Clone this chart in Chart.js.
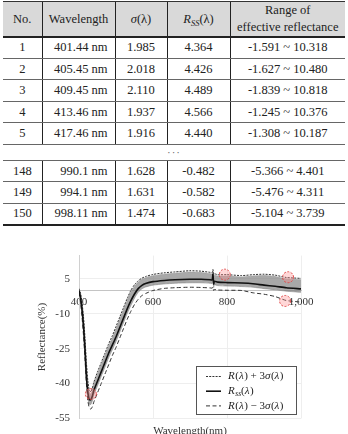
<!DOCTYPE html>
<html>
<head>
<meta charset="utf-8">
<script src="https://cdn.jsdelivr.net/npm/chart.js@4.4.1/dist/chart.umd.min.js"></script>
<style>
  html, body { margin: 0; padding: 0; background: #fff; width: 348px; height: 434px; overflow: hidden; }
  #tbl { position: absolute; left: 3px; top: 1px; width: 342px; }
  table { border-collapse: collapse; table-layout: fixed; width: 342px;
          font-family: 'Liberation Serif', Tinos, 'Times New Roman', 'DejaVu Serif', serif; font-size: 12.5px; color: #222; }
  td, th { padding: 0; text-align: center; vertical-align: middle; font-weight: normal; line-height: 1.3; }
  thead tr { background: #d9d9d9; height: 35px; }
  thead th { border-top: 1.5px solid #333; border-bottom: 2px solid #222; }
  tbody tr { height: 21.5px; }
  tbody td { border-bottom: 1px solid #666; }
  .v { border-left: 1px solid #222; }
  .wl { text-align: right; padding-right: 7px; }
  tr.dots { height: 16px; }
  tr.dots td { color: #666; font-size: 11px; line-height: 1; letter-spacing: 1px; }
  tbody tr.last td { border-bottom: 2px solid #222; }
  i { font-style: italic; }
  sub { font-size: 8.5px; vertical-align: -3px; line-height: 0; }
  #chartBox { position: absolute; left: 0; top: 240px; width: 348px; height: 194px; }
</style>
</head>
<body>
<div id="tbl"></div>
<div id="chartBox"><canvas id="c"></canvas></div>
<script>
// ---------------- table data ----------------
const rowNo = ['1', '2', '3', '4', '5', '148', '149', '150'];
const rowWavelength = ['401.44 nm', '405.45 nm', '409.45 nm', '413.46 nm', '417.46 nm', '990.1 nm', '994.1 nm', '998.11 nm'];
const rowSigma = ['1.985', '2.018', '2.110', '1.937', '1.916', '1.628', '1.631', '1.474'];
const rowRss = ['4.364', '4.426', '4.489', '4.566', '4.440', '-0.482', '-0.582', '-0.683'];
const rowRange = ['-1.591 ~ 10.318', '-1.627 ~ 10.480', '-1.839 ~ 10.818', '-1.245 ~ 10.376', '-1.308 ~ 10.187',
                  '-5.366 ~ 4.401', '-5.476 ~ 4.311', '-5.104 ~ 3.739'];

// ---------------- chart data ----------------
const wavelengths = [400,404,408,412,416,420,424,428,432,436,
                     440,450,460,470,480,490,500,510,520,530,
                     540,550,560,570,580,600,630,660,700,730,
                     755,760,762,764,766,775,800,840,870,900,
                     930,960,1000];
const rssMean = [0,-3,-8,-15,-25,-37,-44,-47,-47,-45.5,
                 -43,-39,-35,-31,-27,-23.5,-20,-16,-12,-8,
                 -4.5,-1.5,0.8,2.2,3,3.8,4.3,4.6,4.8,4.8,
                 4.6,4.5,7,2.8,4,3.6,3.4,3.2,2.9,2.3,
                 1.8,1.2,0.7];
const plus3Sigma = [0.8,-1,-5,-11,-20,-31,-39,-43,-43.5,-42,
                    -39.5,-35,-31,-27,-23,-19.5,-15.5,-11.5,-7.5,-3.5,
                    0,2.5,4.2,5.3,6,6.9,7.6,8,8.5,8.3,
                    7.8,7.7,9,7,7.2,6.8,6.8,6.4,6.8,7,
                    6.6,5.6,5.2];
const minus3Sigma = [-0.8,-5,-11,-19,-29,-40,-47.5,-50.5,-51,-50,
                     -48,-44,-40,-36,-32,-28,-24.5,-20.5,-16.5,-12.5,
                     -9,-6,-3.8,-2.2,-1.3,0,0.9,1.2,1.4,1.3,
                     1.1,1,1.5,0,0.4,0.2,0.1,0,-1,-1.6,
                     -2.6,-4.3,-5];
const samplesHigh = [0.5,-1.5,-5.5,-12,-21,-32,-40,-44,-44.5,-43,
                     -40.5,-36,-32,-28,-24,-20.5,-16.5,-12.5,-8.5,-4.5,
                     -0.8,1.8,3.6,4.8,5.5,6.3,7,7.4,7.9,7.7,
                     7.2,7.1,8.5,6.4,6.6,6.2,6.2,5.8,6.2,6.4,
                     6,5,4.6];
const samplesLow = [-0.5,-4,-10,-17,-27,-39,-46,-49,-49,-47.5,
                    -45,-41,-37,-33,-29,-25.5,-22,-18,-14,-10,
                    -6.5,-3.3,-0.8,0.7,1.5,2.3,2.8,3.1,3.3,3.3,
                    3.1,3,5.5,1.3,2.5,2.1,1.9,1.7,1.4,0.8,
                    0.3,-0.3,-0.8];
const yTicks = [-55, -40, -25, -10, 5];
const xTicks = [400, 600, 800, 1000];
const highlightWl = [432, 794, 965, 957];
const highlightVal = [-44.5, 6.8, 5.7, -4.5];

// ---------------- build table ----------------
(function buildTable() {
  let h = '<table><colgroup><col style="width:39px"><col style="width:73px"><col style="width:52px"><col style="width:63px"><col style="width:115px"></colgroup>';
  h += '<thead><tr><th>No.</th><th class="v">Wavelength</th><th class="v"><i>σ</i>(λ)</th>' +
       '<th class="v"><i>R</i><sub><i>SS</i></sub>(λ)</th><th class="v" style="line-height:16.5px">Range of<br>effective reflectance</th></tr></thead><tbody>';
  for (let i = 0; i < rowNo.length; i++) {
    if (i === 5) h += '<tr class="dots"><td colspan="5">···</td></tr>';
    const cls = i === rowNo.length - 1 ? ' class="last"' : '';
    h += '<tr' + cls + '><td>' + rowNo[i] + '</td><td class="v wl">' + rowWavelength[i] + '</td><td class="v">' +
         rowSigma[i] + '</td><td class="v">' + rowRss[i] + '</td><td class="v">' + rowRange[i] + '</td></tr>';
  }
  h += '</tbody></table>';
  document.getElementById('tbl').innerHTML = h;
})();

// ---------------- chart ----------------
const pts = arr => wavelengths.map((w, i) => ({ x: w, y: arr[i] }));
const SERIF = "'Liberation Serif', Tinos, 'Times New Roman', 'DejaVu Serif', serif";

const overlay = {
  id: 'overlay',
  afterDatasetsDraw(chart) {
    const { ctx, scales: { x, y } } = chart;
    ctx.save();
    highlightWl.forEach((w, i) => {
      const px = x.getPixelForValue(w), py = y.getPixelForValue(highlightVal[i]);
      ctx.beginPath();
      ctx.arc(px, py, 5.5, 0, Math.PI * 2);
      ctx.fillStyle = 'rgba(255,140,140,0.35)';
      ctx.fill();
      ctx.setLineDash([2, 1.5]);
      ctx.lineWidth = 1;
      ctx.strokeStyle = '#e04848';
      ctx.stroke();
    });
    ctx.restore();
  },
  afterDraw(chart) {
    const { ctx, chartArea } = chart;
    ctx.save();
    ctx.font = '11px ' + SERIF;
    ctx.fillStyle = '#333';
    ctx.textAlign = 'center';
    ctx.textBaseline = 'alphabetic';
    ctx.fillText('Wavelength(nm)', (chartArea.left + chartArea.right) / 2, 194);
    const bx = 196.5, by = 126.5, bw = 100, bh = 48;
    ctx.fillStyle = '#fff';
    ctx.fillRect(bx, by, bw, bh);
    ctx.setLineDash([]);
    ctx.lineWidth = 1;
    ctx.strokeStyle = '#555';
    ctx.strokeRect(bx, by, bw, bh);
    const entries = [
      { ds: 1, parts: [['R', 'i'], ['(', ''], ['λ', 'i'], [') + 3', ''], ['σ', 'i'], ['(', ''], ['λ', 'i'], [')', '']] },
      { ds: 0, parts: [['R', 'i'], ['ss', 's'], ['(', ''], ['λ', 'i'], [')', '']] },
      { ds: 2, parts: [['R', 'i'], ['(', ''], ['λ', 'i'], [') − 3', ''], ['σ', 'i'], ['(', ''], ['λ', 'i'], [')', '']] }
    ];
    entries.forEach((e, k) => {
      const ds = chart.data.datasets[e.ds];
      const cy = by + 10 + k * 14.7;
      ctx.beginPath();
      ctx.setLineDash(ds.borderDash || []);
      ctx.lineWidth = ds.borderWidth;
      ctx.strokeStyle = ds.borderColor;
      ctx.moveTo(206, cy);
      ctx.lineTo(221, cy);
      ctx.stroke();
      ctx.setLineDash([]);
      let tx = 228;
      ctx.textAlign = 'left';
      ctx.textBaseline = 'middle';
      ctx.fillStyle = '#222';
      e.parts.forEach(([t, st]) => {
        if (st === 's') {
          ctx.font = 'italic 7.5px ' + SERIF;
          ctx.fillText(t, tx, cy + 3);
        } else {
          ctx.font = (st === 'i' ? 'italic ' : '') + '11px ' + SERIF;
          ctx.fillText(t, tx, cy);
        }
        tx += ctx.measureText(t).width + (st === 'i' ? 0.5 : 0);
      });
    });
    ctx.restore();
  }
};

new Chart(document.getElementById('c'), {
  type: 'line',
  data: {
    datasets: [
      { label: 'Rss(λ)', data: pts(rssMean), borderColor: '#111', borderWidth: 1.6, pointRadius: 0, fill: false, order: 0, tension: 0.2 },
      { label: 'R(λ) + 3σ(λ)', data: pts(plus3Sigma), borderColor: '#333', borderWidth: 1, borderDash: [2, 1.2], pointRadius: 0, fill: false, order: 1, tension: 0.2 },
      { label: 'R(λ) − 3σ(λ)', data: pts(minus3Sigma), borderColor: '#333', borderWidth: 1, borderDash: [4, 2.5], pointRadius: 0, fill: false, order: 1, tension: 0.2 },
      { label: 'samples max', data: pts(samplesHigh), borderColor: 'rgba(160,160,160,0.7)', borderWidth: 1, pointRadius: 0, fill: '+1', backgroundColor: 'rgba(115,115,115,0.62)', order: 3, tension: 0.2 },
      { label: 'samples min', data: pts(samplesLow), borderColor: 'rgba(160,160,160,0.7)', borderWidth: 1, pointRadius: 0, fill: false, order: 3, tension: 0.2 }
    ]
  },
  options: {
    responsive: true,
    maintainAspectRatio: false,
    animation: false,
    devicePixelRatio: 1,
    layout: { padding: { left: 0, right: 47, top: 13, bottom: 14 } },
    plugins: { legend: { display: false }, tooltip: { enabled: false } },
    scales: {
      x: {
        type: 'linear',
        position: { y: 0 },
        min: 400, max: 1000,
        afterBuildTicks: s => { s.ticks = xTicks.map(v => ({ value: v })); },
        ticks: { font: { family: SERIF, size: 11 }, color: '#333', padding: 5, maxRotation: 0 },
        grid: { color: '#eeeeee', drawTicks: false },
        border: { color: '#c4c4c4', width: 1 }
      },
      y: {
        type: 'linear',
        min: -55, max: 15,
        afterBuildTicks: s => { s.ticks = yTicks.map(v => ({ value: v })); },
        afterFit: s => { s.width = 79; },
        ticks: { font: { family: SERIF, size: 11 }, color: '#333', padding: 9 },
        grid: { color: '#eeeeee', drawTicks: false },
        border: { color: '#d0d0d0', width: 1 },
        title: { display: true, text: 'Reflectance(%)', font: { family: SERIF, size: 11 }, color: '#333', padding: { top: 36, bottom: 0 } }
      }
    }
  },
  plugins: [overlay]
});
</script>
</body>
</html>
